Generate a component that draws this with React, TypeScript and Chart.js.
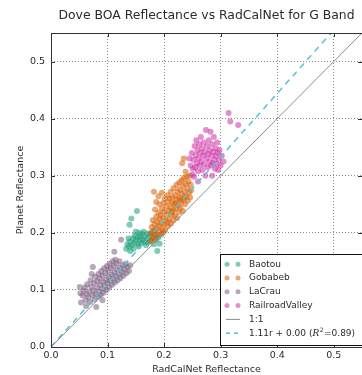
import React, { useEffect, useRef } from "react";
import { Chart, registerables } from "chart.js";

Chart.register(...registerables);

const TITLE = "Dove BOA Reflectance vs RadCalNet for G Band";
const X_LABEL = "RadCalNet Reflectance";
const Y_LABEL = "Planet Reflectance";
const AXIS_MAX = 0.55;
const TICKS = [0, 0.1, 0.2, 0.3, 0.4, 0.5];

const SITE_NAMES = ["Baotou", "Gobabeb", "LaCrau", "RailroadValley"];
const SITE_COLORS = [
  "rgba(27,158,119,0.55)",
  "rgba(217,95,2,0.55)",
  "rgba(128,96,132,0.55)",
  "rgba(205,50,165,0.55)",
];

const baotou: number[][] = [
  [0.133, 0.172], [0.135, 0.180], [0.139, 0.214], [0.138, 0.176], [0.140, 0.185],
  [0.142, 0.225], [0.143, 0.178], [0.145, 0.190], [0.147, 0.182], [0.148, 0.195],
  [0.150, 0.186], [0.150, 0.202], [0.152, 0.238], [0.153, 0.192], [0.154, 0.180],
  [0.155, 0.176], [0.156, 0.200], [0.157, 0.188], [0.158, 0.194], [0.160, 0.182],
  [0.161, 0.198], [0.162, 0.188], [0.164, 0.202], [0.165, 0.184], [0.166, 0.193],
  [0.168, 0.178], [0.170, 0.190], [0.171, 0.199], [0.172, 0.183], [0.174, 0.194],
  [0.176, 0.186], [0.178, 0.201], [0.180, 0.191], [0.182, 0.180], [0.184, 0.196],
  [0.186, 0.188], [0.188, 0.168], [0.190, 0.192], [0.192, 0.181], [0.195, 0.197],
  [0.140, 0.168], [0.146, 0.172], [0.137, 0.190],
];

const gobabeb: number[][] = [
  [0.175, 0.186], [0.176, 0.198], [0.178, 0.210], [0.179, 0.192], [0.180, 0.222],
  [0.181, 0.203], [0.182, 0.272], [0.183, 0.188], [0.183, 0.215], [0.184, 0.241],
  [0.185, 0.198], [0.186, 0.228], [0.187, 0.208], [0.188, 0.219], [0.189, 0.196],
  [0.190, 0.235], [0.191, 0.212], [0.192, 0.224], [0.192, 0.250], [0.193, 0.203],
  [0.194, 0.231], [0.195, 0.216], [0.196, 0.242], [0.196, 0.270], [0.197, 0.206],
  [0.198, 0.226], [0.199, 0.252], [0.200, 0.214], [0.200, 0.237], [0.201, 0.260],
  [0.202, 0.204], [0.203, 0.222], [0.204, 0.246], [0.205, 0.232], [0.206, 0.266],
  [0.207, 0.212], [0.207, 0.254], [0.208, 0.238], [0.209, 0.224], [0.210, 0.260],
  [0.211, 0.244], [0.212, 0.216], [0.212, 0.272], [0.213, 0.232], [0.214, 0.252],
  [0.215, 0.262], [0.216, 0.222], [0.216, 0.240], [0.217, 0.278], [0.218, 0.250],
  [0.219, 0.230], [0.220, 0.266], [0.221, 0.242], [0.222, 0.284], [0.222, 0.258],
  [0.223, 0.226], [0.224, 0.272], [0.225, 0.248], [0.226, 0.236], [0.227, 0.288],
  [0.227, 0.262], [0.228, 0.276], [0.229, 0.244], [0.230, 0.254], [0.231, 0.292],
  [0.231, 0.268], [0.232, 0.322], [0.233, 0.282], [0.233, 0.238], [0.234, 0.258],
  [0.235, 0.330], [0.235, 0.296], [0.236, 0.272], [0.237, 0.250], [0.238, 0.307],
  [0.238, 0.286], [0.239, 0.264], [0.240, 0.298], [0.241, 0.278], [0.242, 0.256],
  [0.243, 0.290], [0.244, 0.270], [0.245, 0.300], [0.246, 0.262], [0.247, 0.284],
  [0.248, 0.274], [0.186, 0.254], [0.190, 0.264], [0.184, 0.205], [0.198, 0.200],
  [0.206, 0.218], [0.214, 0.236], [0.220, 0.252], [0.228, 0.258], [0.236, 0.262],
];

const laCrau: number[][] = [
  [0.053, 0.078], [0.056, 0.090], [0.058, 0.099], [0.052, 0.094], [0.061, 0.082],
  [0.063, 0.093], [0.060, 0.104], [0.066, 0.087], [0.064, 0.110], [0.068, 0.097],
  [0.069, 0.079], [0.071, 0.106], [0.073, 0.090], [0.070, 0.117], [0.075, 0.099],
  [0.077, 0.083], [0.076, 0.112], [0.079, 0.093], [0.078, 0.123], [0.081, 0.104],
  [0.083, 0.088], [0.082, 0.115], [0.085, 0.097], [0.084, 0.128], [0.087, 0.109],
  [0.088, 0.091], [0.086, 0.120], [0.090, 0.102], [0.089, 0.133], [0.092, 0.114],
  [0.093, 0.095], [0.091, 0.125], [0.095, 0.107], [0.094, 0.138], [0.097, 0.118],
  [0.098, 0.100], [0.096, 0.129], [0.100, 0.112], [0.099, 0.142], [0.102, 0.123],
  [0.103, 0.104], [0.101, 0.134], [0.105, 0.116], [0.104, 0.146], [0.107, 0.127],
  [0.108, 0.109], [0.106, 0.138], [0.110, 0.120], [0.109, 0.150], [0.112, 0.131],
  [0.113, 0.113], [0.111, 0.142], [0.115, 0.124], [0.114, 0.153], [0.117, 0.135],
  [0.118, 0.117], [0.116, 0.146], [0.120, 0.128], [0.122, 0.139], [0.123, 0.121],
  [0.121, 0.150], [0.125, 0.132], [0.127, 0.143], [0.128, 0.125], [0.130, 0.136],
  [0.132, 0.146], [0.133, 0.129], [0.135, 0.140], [0.138, 0.133], [0.140, 0.143],
  [0.124, 0.188], [0.112, 0.167], [0.074, 0.140], [0.051, 0.105], [0.072, 0.128],
  [0.080, 0.070], [0.091, 0.082], [0.062, 0.072],
];

const railroadValley: number[][] = [
  [0.247, 0.318], [0.249, 0.340], [0.250, 0.302], [0.252, 0.328], [0.253, 0.298],
  [0.254, 0.352], [0.255, 0.315], [0.256, 0.336], [0.257, 0.362], [0.258, 0.322],
  [0.259, 0.345], [0.260, 0.308], [0.261, 0.330], [0.262, 0.355], [0.263, 0.318],
  [0.264, 0.340], [0.265, 0.368], [0.266, 0.325], [0.267, 0.348], [0.268, 0.310],
  [0.269, 0.335], [0.270, 0.358], [0.271, 0.320], [0.272, 0.342], [0.273, 0.300],
  [0.274, 0.380], [0.275, 0.330], [0.276, 0.352], [0.277, 0.315], [0.278, 0.338],
  [0.279, 0.362], [0.280, 0.325], [0.281, 0.345], [0.282, 0.377], [0.283, 0.318],
  [0.284, 0.335], [0.285, 0.355], [0.286, 0.322], [0.287, 0.342], [0.288, 0.368],
  [0.289, 0.328], [0.290, 0.312], [0.291, 0.348], [0.292, 0.335], [0.293, 0.320],
  [0.294, 0.358], [0.295, 0.340], [0.296, 0.310], [0.297, 0.328], [0.298, 0.345],
  [0.300, 0.318], [0.302, 0.335], [0.305, 0.325], [0.314, 0.410], [0.317, 0.395],
  [0.331, 0.389], [0.260, 0.290], [0.285, 0.300], [0.245, 0.330], [0.251, 0.312],
];

const SITE_DATA = [baotou, gobabeb, laCrau, railroadValley];

const FIT_SLOPE = 1.11;
const FIT_INTERCEPT = 0.0;
const FIT_R2 = 0.89;
const ONE_TO_ONE_LABEL = "1:1";
const LINE_ENDS = [0, AXIS_MAX];

const ONE_COLOR = "#8c8c8c";
const FIT_COLOR = "#4fc4d4";
const FONT = "'DejaVu Sans', sans-serif";
const TEXT_COLOR = "#2a2a2a";

const framePlugin = {
  id: "frame",
  afterDatasetsDraw(chart: any) {
    const { ctx, chartArea: a, scales } = chart;
    ctx.save();
    ctx.strokeStyle = "#333";
    ctx.lineWidth = 1;
    ctx.strokeRect(Math.round(a.left) + 0.5, Math.round(a.top) + 0.5, Math.round(a.right - a.left), Math.round(a.bottom - a.top));
    ctx.beginPath();
    for (const t of scales.x.ticks) {
      const px = Math.round(scales.x.getPixelForValue(t.value)) + 0.5;
      ctx.moveTo(px, a.bottom); ctx.lineTo(px, a.bottom - 4);
      ctx.moveTo(px, a.top); ctx.lineTo(px, a.top + 4);
    }
    for (const t of scales.y.ticks) {
      const py = Math.round(scales.y.getPixelForValue(t.value)) + 0.5;
      ctx.moveTo(a.left, py); ctx.lineTo(a.left + 4, py);
      ctx.moveTo(a.right, py); ctx.lineTo(a.right - 4, py);
    }
    ctx.stroke();
    ctx.restore();
  },
};

const legendPlugin = {
  id: "boxLegend",
  afterDraw(chart: any) {
    const { ctx, chartArea: a } = chart;
    const left = a.left + 169;
    const bottom = a.bottom - 2;
    const rowH = 13.8;
    const top = bottom - rowH * 6 - 8;
    ctx.save();
    ctx.fillStyle = "#fff";
    ctx.fillRect(left, top, 200, bottom - top);
    ctx.strokeStyle = "#111";
    ctx.lineWidth = 1;
    ctx.strokeRect(Math.round(left) + 0.5, Math.round(top) + 0.5, 200, Math.round(bottom - top));
    ctx.font = `9px ${FONT}`;
    ctx.textBaseline = "middle";
    const textX = left + 29;
    let y = top + 10;
    SITE_NAMES.forEach((name, i) => {
      ctx.fillStyle = SITE_COLORS[i];
      for (const mx of [left + 7, left + 18]) {
        ctx.beginPath();
        ctx.arc(mx, y, 2.5, 0, Math.PI * 2);
        ctx.fill();
      }
      ctx.fillStyle = TEXT_COLOR;
      ctx.fillText(name, textX, y);
      y += rowH;
    });
    ctx.strokeStyle = ONE_COLOR;
    ctx.beginPath();
    ctx.moveTo(left + 6, y); ctx.lineTo(left + 20, y);
    ctx.stroke();
    ctx.fillStyle = TEXT_COLOR;
    ctx.fillText(ONE_TO_ONE_LABEL, textX, y);
    y += rowH;
    ctx.strokeStyle = FIT_COLOR;
    ctx.lineWidth = 1.5;
    ctx.setLineDash([4, 4]);
    ctx.beginPath();
    ctx.moveTo(left + 6, y); ctx.lineTo(left + 22, y);
    ctx.stroke();
    ctx.setLineDash([]);
    let x = textX;
    const part1 = `${FIT_SLOPE.toFixed(2)}r + ${FIT_INTERCEPT.toFixed(2)} (`;
    ctx.fillText(part1, x, y);
    x += ctx.measureText(part1).width;
    ctx.font = `italic 9px 'DejaVu Serif', serif`;
    ctx.fillText("R", x, y);
    x += ctx.measureText("R").width;
    ctx.font = `6px ${FONT}`;
    ctx.fillText("2", x + 0.5, y - 3);
    x += ctx.measureText("2").width + 1;
    ctx.font = `9px ${FONT}`;
    ctx.fillText(`=${FIT_R2.toFixed(2)})`, x, y);
    ctx.restore();
  },
};

const setTicks = (s: any) => {
  s.ticks = TICKS.map((value) => ({ value }));
};

export default function App() {
  const ref = useRef<HTMLCanvasElement | null>(null);
  useEffect(() => {
    if (!ref.current) return;
    const siteSets = SITE_NAMES.map((name, i) => ({
      type: "scatter" as const,
      label: name,
      data: SITE_DATA[i].map(([x, y]) => ({ x, y })),
      backgroundColor: SITE_COLORS[i],
      borderColor: SITE_COLORS[i],
      borderWidth: 0,
      pointRadius: 3,
      order: 4 - i,
    }));
    const chart = new Chart(ref.current, {
      type: "scatter",
      data: {
        datasets: [
          ...siteSets,
          {
            type: "line" as const,
            label: ONE_TO_ONE_LABEL,
            data: LINE_ENDS.map((x) => ({ x, y: x })),
            borderColor: ONE_COLOR,
            borderWidth: 1,
            pointRadius: 0,
            showLine: true,
            order: 0,
          },
          {
            type: "line" as const,
            label: "fit",
            data: LINE_ENDS.map((x) => ({ x, y: FIT_SLOPE * x + FIT_INTERCEPT })),
            borderColor: FIT_COLOR,
            borderWidth: 1.5,
            borderDash: [6, 5],
            pointRadius: 0,
            showLine: true,
            order: 0,
          },
        ] as any,
      },
      options: {
        animation: false,
        responsive: false,
        maintainAspectRatio: false,
        layout: { padding: { left: 0, right: 2, top: 0, bottom: 0 } },
        plugins: {
          legend: { display: false },
          tooltip: { enabled: false },
          title: {
            display: true,
            text: TITLE,
            fullSize: false,
            color: TEXT_COLOR,
            font: { family: FONT, size: 12.4, weight: "normal" },
            padding: { top: 8, bottom: 10.1 },
          },
        },
        scales: {
          x: {
            type: "linear",
            min: 0,
            max: AXIS_MAX,
            afterBuildTicks: setTicks,
            afterFit: (s: any) => { s.height = 28; },
            ticks: {
              padding: 3,
              color: TEXT_COLOR,
              font: { family: FONT, size: 9.5 },
              callback: (v: any) => Number(v).toFixed(1),
              maxRotation: 0,
              autoSkip: false,
            },
            grid: { color: "rgba(0,0,0,0.45)", drawTicks: false } as any,
            border: { display: false, dash: [1, 2] } as any,
            title: {
              display: true,
              text: X_LABEL,
              color: TEXT_COLOR,
              font: { family: FONT, size: 9.5 },
              padding: { top: 0, bottom: 0 },
            },
          },
          y: {
            type: "linear",
            min: 0,
            max: AXIS_MAX,
            afterBuildTicks: setTicks,
            afterFit: (s: any) => { s.width = 51; },
            ticks: {
              padding: 6,
              color: TEXT_COLOR,
              font: { family: FONT, size: 9.5 },
              callback: (v: any) => Number(v).toFixed(1),
              autoSkip: false,
            },
            grid: { color: "rgba(0,0,0,0.45)", drawTicks: false } as any,
            border: { display: false, dash: [1, 2] } as any,
            title: {
              display: true,
              text: Y_LABEL,
              color: TEXT_COLOR,
              font: { family: FONT, size: 9.5 },
              padding: { top: 15, bottom: 0 },
            },
          },
        },
      },
      plugins: [framePlugin, legendPlugin],
    });
    return () => chart.destroy();
  }, []);
  return (
    <div style={{ position: "fixed", left: 0, top: 0, width: 362, height: 375, overflow: "hidden", background: "#fff" }}>
      <canvas ref={ref} width={366} height={375} style={{ display: "block", width: 366, height: 375 }} />
    </div>
  );
}
